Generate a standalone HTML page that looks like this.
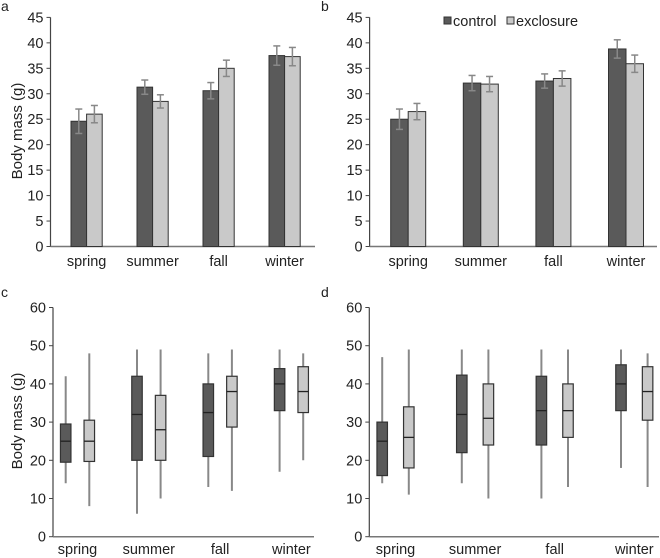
<!DOCTYPE html>
<html><head><meta charset="utf-8"><style>
body{margin:0;background:#fff;}
svg{display:block;font-family:"Liberation Sans",sans-serif;}
</style></head><body>
<svg id="fig" width="660" height="558" viewBox="0 0 660 558" xmlns="http://www.w3.org/2000/svg">
<g id="root"></g>
</svg>
<script>
const seasons = ["spring","summer","fall","winter"];
// Panel a (mean, error)
const aControl = [24.6, 31.3, 30.6, 37.5];
const aControlErr = [2.4, 1.4, 1.6, 1.9];
const aExcl = [26.0, 28.5, 35.0, 37.3];
const aExclErr = [1.7, 1.3, 1.6, 1.8];
// Panel b
const bControl = [25.0, 32.1, 32.5, 38.8];
const bControlErr = [2.0, 1.5, 1.4, 1.8];
const bExcl = [26.5, 31.9, 33.0, 35.9];
const bExclErr = [1.6, 1.5, 1.5, 1.7];
const barTicks = [0,5,10,15,20,25,30,35,40,45];
// Panel c boxes [min,q1,median,q3,max]
const cControl = [[14,19.5,25,29.5,42],[6,20,32,42,49],[13,21,32.5,40,48],[17,33,40,44,49]];
const cExcl = [[8,19.7,25,30.5,48],[10,20,28,37,49],[12,28.7,38,42,49],[20,32.5,38,44.5,48]];
// Panel d boxes
const dControl = [[14,16,25,30,47],[14,22,32,42.3,49],[10,24,33,42,49],[18,33,40,45,49]];
const dExcl = [[11,18,26,34,49],[10,24,31,40,49],[13,26,33,40,49],[13,30.5,38,44.5,48]];
const boxTicks = [0,10,20,30,40,50,60];

const NS="http://www.w3.org/2000/svg";
const root=document.getElementById('root');
function el(tag,attrs,parent,text){const e=document.createElementNS(NS,tag);for(const k in attrs)e.setAttribute(k,attrs[k]);if(text!==undefined)e.textContent=text;(parent||root).appendChild(e);return e;}
const DARK="#5a5a5a", LIGHT="#c9c9c9", EDGE="#333";
const FS=14.5;

function axes(g,p,ticks,yf,name){
  const ax=el('line',{x1:p.x0,y1:yf(ticks[0]),x2:p.x0,y2:yf(ticks[ticks.length-1]),stroke:"#444","stroke-width":1.2},g);
  
  
  const bx=el('line',{x1:p.x0,y1:yf(0),x2:p.x1,y2:yf(0),stroke:"#777","stroke-width":1.5},g);
  
  
  ticks.forEach(t=>{
    el('line',{x1:p.x0-4,y1:yf(t),x2:p.x0,y2:yf(t),stroke:"#444"},g);
    const tx=el('text',{x:p.x0-7,y:yf(t)+5,"text-anchor":"end","font-size":FS,fill:"#222"},g,t);
    
    
  });
}

function barPanel(name,p,ctrl,ctrlE,excl,exclE){
  const g=el('g',{},root);
  
  
  const yf=v=>p.yb-(v/45)*(p.yb-p.yt);
  axes(g,p,barTicks,yf,name);
  seasons.forEach((s,i)=>{
    const c=p.c0+i*p.step;
    [[ctrl,ctrlE,DARK,-p.bw,'control'],[excl,exclE,LIGHT,0,'exclosure']].forEach(([vals,errs,col,off,sn])=>{
      const v=vals[i];
      const r=el('rect',{x:c+off,y:yf(v),width:p.bw,height:yf(0)-yf(v),fill:col,stroke:EDGE,"stroke-width":1},g);
      
      
      const mx=c+off+p.bw/2, e=errs[i];
      const eg=el('g',{stroke:"#888","stroke-width":1.5},g);
      
      
      el('line',{x1:mx,y1:yf(v-e),x2:mx,y2:yf(v+e)},eg);
      el('line',{x1:mx-3.5,y1:yf(v-e),x2:mx+3.5,y2:yf(v-e)},eg);
      el('line',{x1:mx-3.5,y1:yf(v+e),x2:mx+3.5,y2:yf(v+e)},eg);
    });
    const t=el('text',{x:c,y:p.ly,"text-anchor":"middle","font-size":FS,fill:"#222"},g,s);
    
    
  });
}

function boxPanel(name,p,ctrl,excl){
  const g=el('g',{},root);
  
  
  const yf=v=>p.yb-(v/60)*(p.yb-p.yt);
  axes(g,p,boxTicks,yf,name);
  seasons.forEach((s,i)=>{
    const c=p.c0+i*p.step;
    [[ctrl,DARK,-p.off,'control'],[excl,LIGHT,p.off,'exclosure']].forEach(([vals,col,off,sn])=>{
      const [mn,q1,md,q3,mx]=vals[i], x=c+off, w=10.5;
      const bg=el('g',{},g);
      
      
      el('line',{x1:x,y1:yf(mn),x2:x,y2:yf(mx),stroke:"#888","stroke-width":2},bg);
      el('rect',{x:x-w/2,y:yf(q3),width:w,height:yf(q1)-yf(q3),fill:col,stroke:EDGE,"stroke-width":1.2},bg);
      el('line',{x1:x-w/2,y1:yf(md),x2:x+w/2,y2:yf(md),stroke:"#222","stroke-width":1.3},bg);
    });
    const t=el('text',{x:c,y:p.ly,"text-anchor":"middle","font-size":FS,fill:"#222"},g,s);
    
    
  });
}

barPanel('a',{x0:50.5,x1:315,yb:246.5,yt:17.4,c0:86.6,step:66,bw:15.6,ly:266},aControl,aControlErr,aExcl,aExclErr);
barPanel('b',{x0:369.6,x1:657,yb:246.5,yt:17.4,c0:408.2,step:72.6,bw:17.5,ly:266},bControl,bControlErr,bExcl,bExclErr);
boxPanel('c',{x0:53,x1:314,yb:536.7,yt:307.5,c0:77.5,step:71.3,off:11.8,ly:554},cControl,cExcl);
boxPanel('d',{x0:369.3,x1:659,yb:536.7,yt:307.5,c0:395.5,step:79.6,off:13.3,ly:554},dControl,dExcl);

// legend
const lg=el('g',{},root);


const l1=el('g',{},lg);


el('rect',{x:444,y:17,width:7,height:7,fill:DARK,stroke:EDGE},l1);
el('text',{x:453,y:26,"font-size":FS,fill:"#222"},l1,'control');
const l2=el('g',{},lg);


el('rect',{x:507,y:17,width:7,height:7,fill:LIGHT,stroke:EDGE},l2);
el('text',{x:516,y:26,"font-size":FS,fill:"#222"},l2,'exclosure');

// y titles and panel letters
[['a-y-axis-title',131],['c-y-axis-title',421]].forEach(([n,cy])=>{
  const t=el('text',{x:0,y:0,transform:`translate(22,${cy}) rotate(-90)`,"text-anchor":"middle","font-size":15,fill:"#222"},root,'Body mass (g)');
  
  
});
[['a',1,11],['b',321,11],['c',1,297],['d',321,297]].forEach(([l,x,y])=>{
  const t=el('text',{x:x,y:y,"font-size":14,fill:"#222"},root,l);
  
  
});
</script>
</body></html>
